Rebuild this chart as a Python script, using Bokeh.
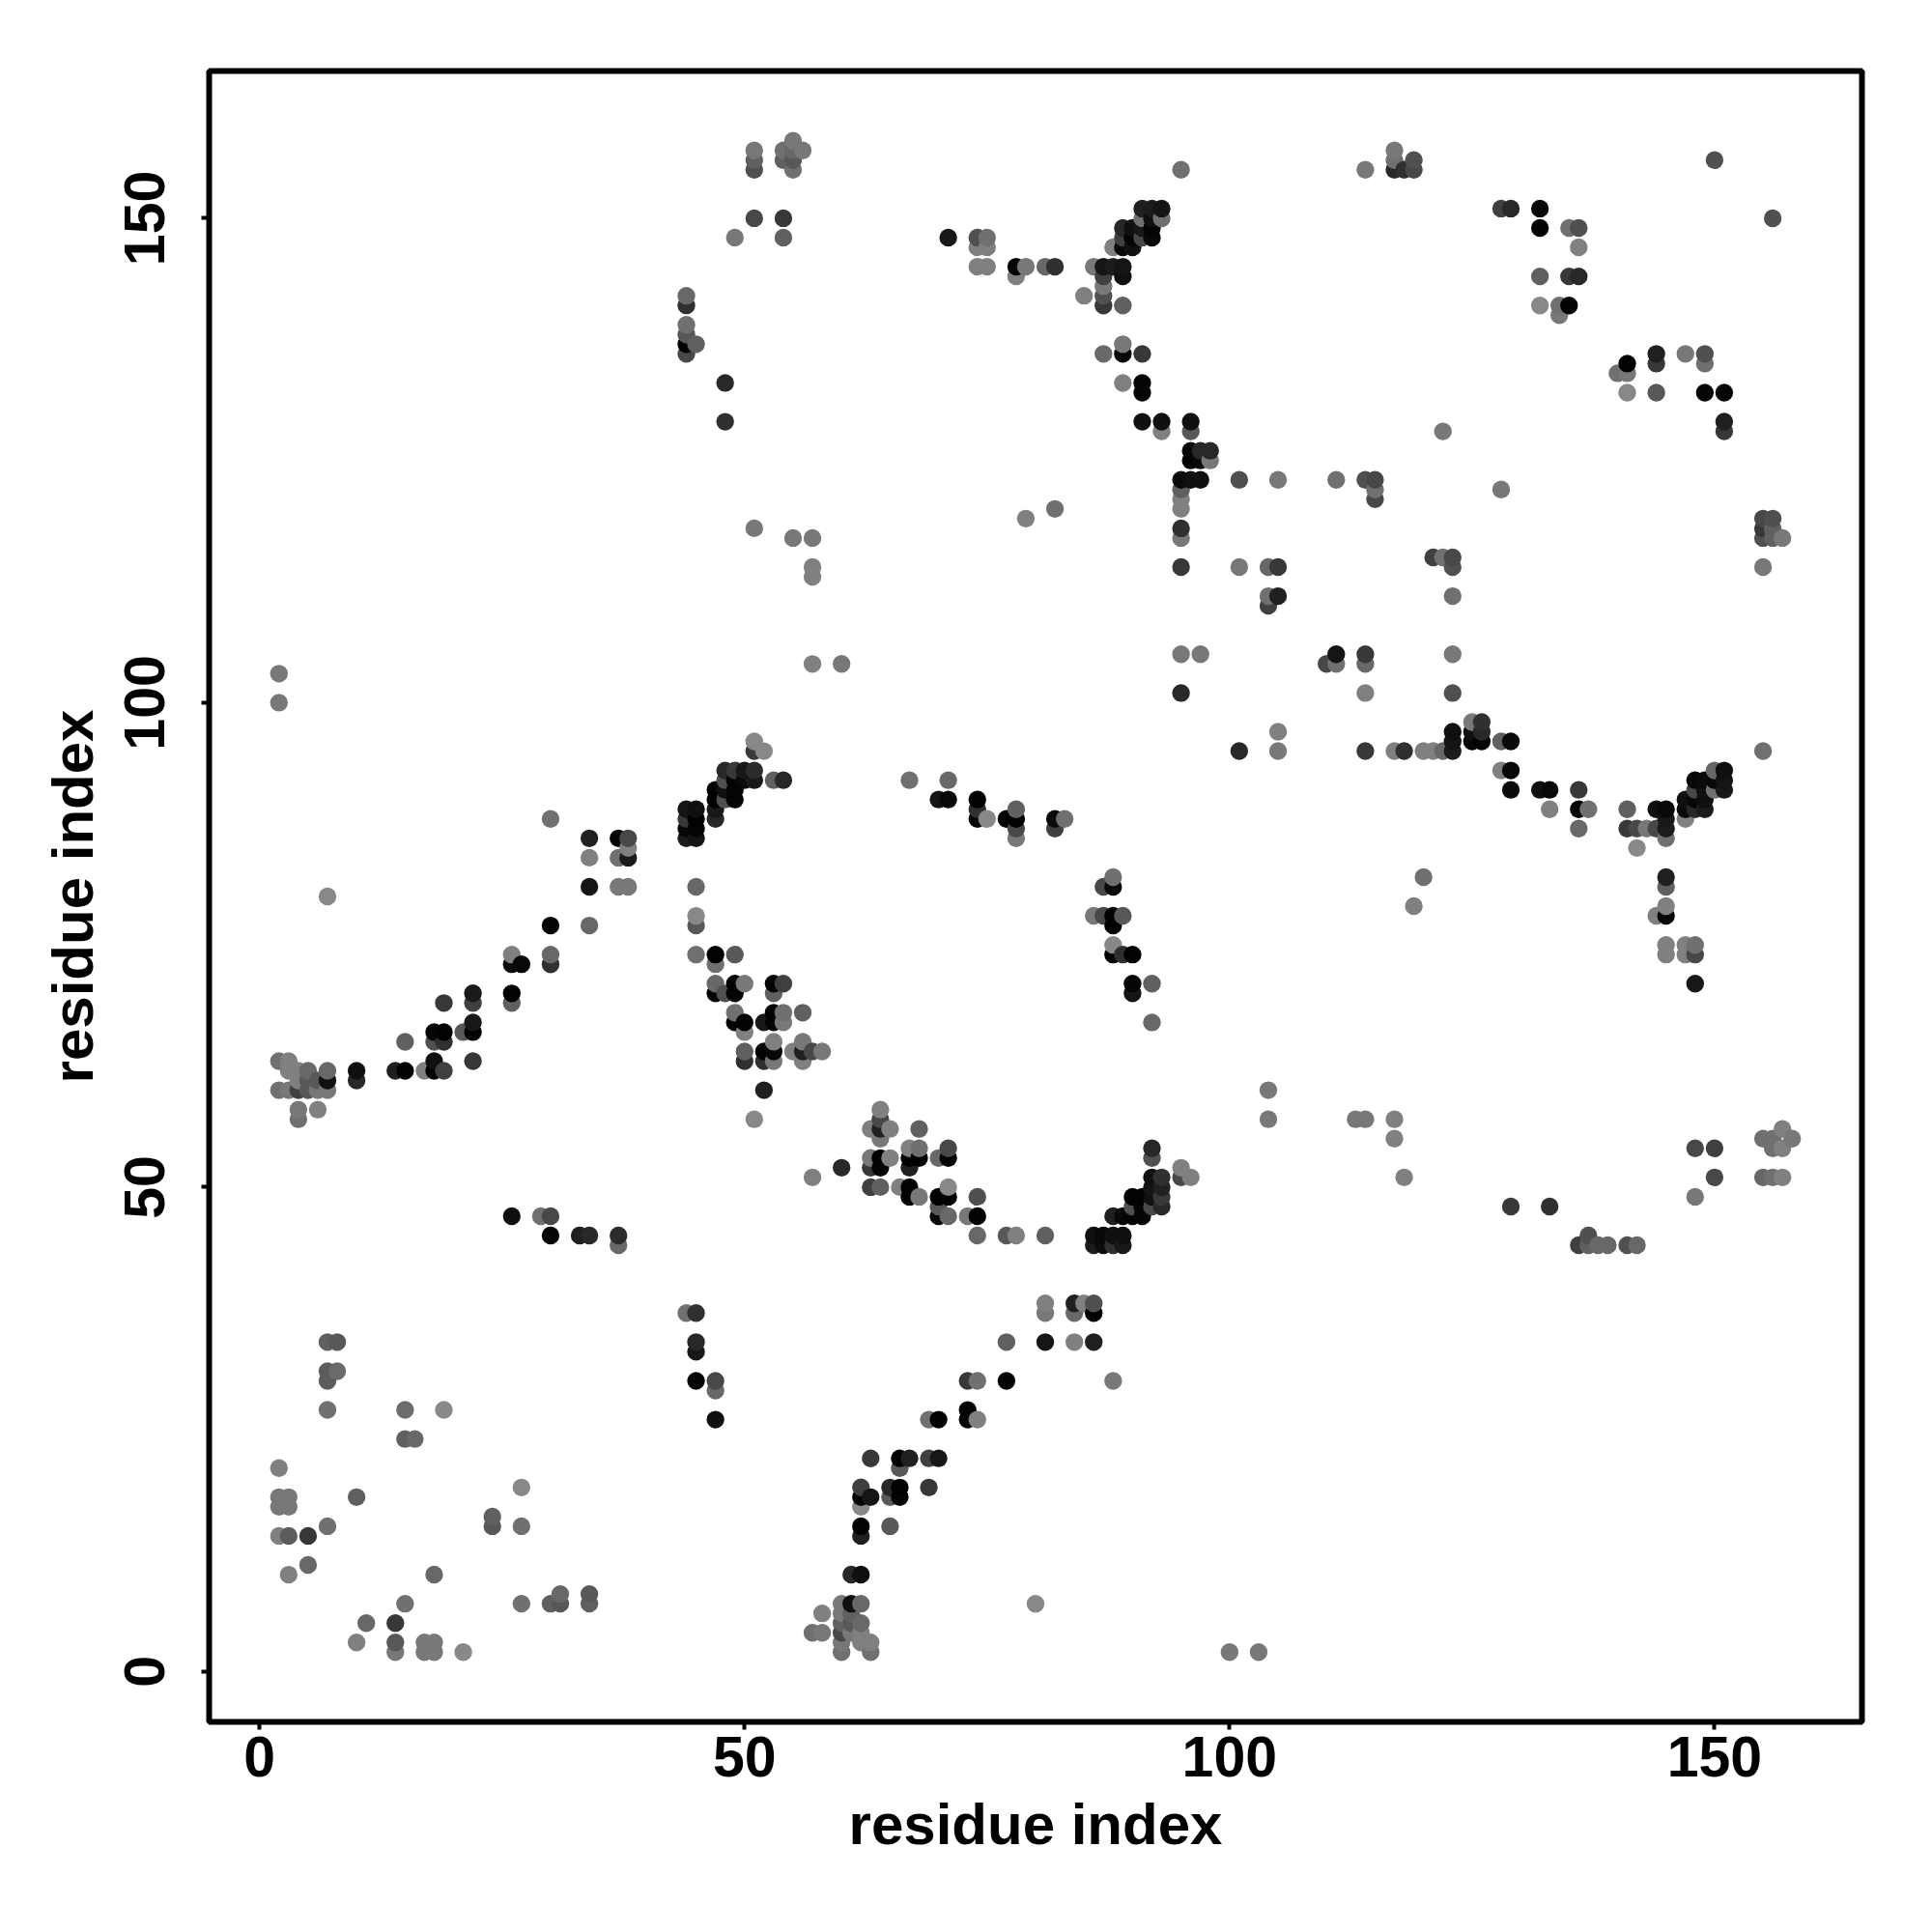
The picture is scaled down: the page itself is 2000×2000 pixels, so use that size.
from bokeh.plotting import figure
from bokeh.models import ColumnDataSource, FixedTicker, Range1d
from bokeh.palettes import Greys256
from bokeh.transform import linear_cmap
from bokeh.embed import file_html
from bokeh.resources import INLINE

# contacts: (residue i, residue j, shade 0=black .. 255=white)
lower_left = [
(7,34,0x60),(8,34,0x58),(7,31,0x5c),(8,31,0x6a),(7,30,0x5c),(7,27,0x70),(15,27,0x6c),(19,27,0x88),
(15,24,0x60),(16,24,0x68),(2,21,0x80),(2,18,0x78),(3,18,0x78),(2,17,0x78),(3,17,0x78),(10,18,0x60),
(7,15,0x70),(24,16,0x60),(24,15,0x58),(27,19,0x88),(27,15,0x70),(2,14,0x80),(3,14,0x5c),(5,14,0x38),
(5,11,0x68),(3,10,0x80),(18,10,0x68),(15,7,0x70),(27,7,0x70),(30,7,0x60),(31,7,0x58),(31,8,0x68),
(34,8,0x58),(34,7,0x60),(11,5,0x68),(14,5,0x38),(10,3,0x80),(14,3,0x58),(14,2,0x78),(17,3,0x78),
(18,3,0x78),(17,2,0x78),(18,2,0x78),(21,2,0x88),
]
diag_left = [
(7,80,0x88),(30,88,0x70),(34,86,0x20),(37,86,0x05),(38,86,0x48),(38,85,0x80),(38,84,0x1a),(37,84,0x70),
(34,84,0x80),(34,81,0x15),(37,81,0x78),(38,81,0x78),(30,77,0x05),(34,77,0x68),(26,74,0x80),(26,73,0x0a),
(27,73,0x08),(30,74,0x68),(30,73,0x30),(26,70,0x03),(26,69,0x60),(22,70,0x1a),(22,69,0x40),(19,69,0x38),
(22,67,0x18),(22,66,0x02),(21,66,0x58),(18,66,0x05),(19,66,0x02),(18,65,0x50),(19,65,0x30),(15,65,0x60),
(22,63,0x38),(18,63,0x10),(18,62,0x02),(17,62,0x80),(19,62,0x40),(15,62,0x02),(14,62,0x20),(10,62,0x10),
(10,61,0x28),(7,62,0x68),(7,61,0x10),(2,63,0x70),(3,63,0x80),(3,62,0x80),(4,62,0x80),(5,62,0x68),
(2,60,0x70),(3,60,0x78),(4,60,0x40),(5,60,0x58),(6,60,0x78),(7,60,0x78),(5,61,0x58),(6,61,0x58),
(4,61,0x80),(4,58,0x78),(4,57,0x70),(6,58,0x80),
]
middle_low = [
(26,47,0x10),(29,47,0x70),(30,47,0x48),(30,45,0x05),(33,45,0x20),(34,45,0x28),(37,45,0x2c),(37,44,0x68),
(44,37,0x70),(45,37,0x30),(45,34,0x28),(45,33,0x18),(45,30,0x05),(47,30,0x48),(47,29,0x68),(47,26,0x10),
]
helix_a = [
(51,96,0x88),(52,95,0x88),(51,95,0x38),(48,93,0x28),(49,93,0x38),(50,93,0x18),(51,93,0x2c),(48,92,0x50),
(49,92,0x05),(50,92,0x0a),(51,92,0x18),(53,92,0x60),(54,92,0x28),(47,91,0x02),(48,91,0x10),(49,91,0x05),
(47,90,0x02),(48,90,0x50),(49,90,0x05),(44,89,0x15),(45,89,0x10),(47,89,0x18),(44,88,0x38),(45,88,0x02),
(47,88,0x28),(44,87,0x08),(45,87,0x05),(44,86,0x1c),(45,86,0x15),(67,92,0x70),(71,92,0x68),(70,90,0x15),
(71,90,0x08),(74,90,0x02),(74,89,0x30),(74,88,0x05),(75,88,0x88),(78,89,0x60),(77,88,0x02),(78,88,0x02),
(78,87,0x48),(78,86,0x78),(82,88,0x0a),(83,88,0x70),(82,87,0x40),(45,81,0x68),(45,78,0x88),(45,77,0x58),
(45,74,0x70),(47,74,0x02),(49,74,0x58),(47,73,0x70),(47,71,0x68),(49,71,0x02),(50,71,0x78),(53,71,0x02),
(54,71,0x40),(47,70,0x02),(48,70,0x50),(49,70,0x05),(53,70,0x60),(49,68,0x70),(53,68,0x02),(54,68,0x70),
(56,68,0x60),(49,67,0x02),(50,67,0x02),(52,67,0x18),(53,67,0x05),(54,67,0x78),(50,66,0x80),(53,65,0x80),
(56,65,0x78),(50,64,0x60),(52,64,0x05),(53,64,0x08),(55,64,0x80),(56,64,0x20),(57,64,0x48),(58,64,0x78),
(50,63,0x30),(52,63,0x30),(53,63,0x78),(56,63,0x80),(52,60,0x20),(51,57,0x88),
(88,82,0x70),(87,81,0x48),(88,81,0x0a),(86,78,0x78),(87,78,0x48),(88,78,0x02),(89,78,0x58),(88,77,0x02),
(88,75,0x88),(88,74,0x02),(89,74,0x30),(90,74,0x02),(90,71,0x05),(92,71,0x60),(90,70,0x15),(92,67,0x68),
]
sheet_b = [
(57,51,0x80),(60,52,0x28),(64,58,0x80),(64,57,0x48),(63,56,0x80),(64,56,0x20),(65,56,0x80),(64,55,0x78),
(68,56,0x60),(67,54,0x80),(68,54,0x70),(67,53,0x02),(68,53,0x02),(67,52,0x20),(63,53,0x78),(64,53,0x02),
(65,53,0x80),(63,52,0x38),(64,52,0x05),(71,54,0x48),(71,53,0x02),(70,53,0x68),(63,50,0x40),(64,50,0x60),
(66,50,0x80),(67,50,0x02),(67,49,0x02),(68,49,0x78),(71,50,0x88),(70,49,0x02),(71,49,0x02),(70,48,0x58),
(70,47,0x05),(71,47,0x68),(74,49,0x50),(73,47,0x78),(74,47,0x02),(74,45,0x68),(77,45,0x58),(78,45,0x80),
(81,45,0x60),(86,45,0x10),(87,45,0x08),(88,45,0x10),(89,45,0x10),(86,44,0x1c),(87,44,0x0c),(88,44,0x30),
(89,44,0x18),(88,47,0x20),(89,47,0x08),(90,47,0x05),(91,47,0x05),(90,48,0x50),(91,48,0x05),(92,48,0x48),
(93,48,0x28),(90,49,0x02),(91,49,0x02),(92,49,0x10),(93,49,0x38),(92,50,0x15),(93,50,0x20),(92,51,0x10),
(93,51,0x30),(95,51,0x48),(96,51,0x80),(95,52,0x80),(92,53,0x50),(92,54,0x28),
]
sheet_c = [
(81,38,0x80),(81,37,0x78),(84,38,0x20),(85,38,0x80),(86,38,0x50),(84,37,0x68),(86,37,0x02),(77,34,0x60),
(81,34,0x15),(84,34,0x80),(86,34,0x20),(73,30,0x38),(74,30,0x70),(77,30,0x02),(88,30,0x78),(69,26,0x70),
(70,26,0x02),(73,27,0x05),(73,26,0x05),(74,26,0x80),(63,22,0x38),(66,22,0x02),(67,22,0x20),(69,22,0x40),
(70,22,0x18),(66,21,0x58),(62,19,0x40),(65,19,0x28),(66,19,0x02),(69,19,0x38),(62,18,0x05),(63,18,0x15),
(65,18,0x58),(66,18,0x05),(62,17,0x88),(62,15,0x02),(65,15,0x58),(62,14,0x20),(61,10,0x28),(62,10,0x10),
(80,7,0x88),(60,7,0x78),(61,7,0x10),(62,7,0x68),(58,6,0x80),(60,6,0x78),(61,6,0x60),(60,5,0x60),(61,5,0x58),
(62,5,0x68),(57,4,0x70),(58,4,0x78),(60,4,0x48),(61,4,0x78),(62,4,0x80),(60,3,0x78),(62,3,0x80),(63,3,0x80),
(60,2,0x70),(63,2,0x70),
]
upper_mid = [
(91,151,0x20),(92,151,0x1c),(93,151,0x15),(91,150,0x70),(92,150,0x10),(93,150,0x70),(89,149,0x28),(90,149,0x10),
(91,149,0x18),(92,149,0x05),(89,148,0x40),(90,148,0x05),(91,148,0x48),(92,148,0x08),(88,147,0x80),(89,147,0x08),
(90,147,0x10),(86,145,0x78),(87,145,0x15),(88,145,0x1c),(89,145,0x15),(89,144,0x10),(87,144,0x40),(87,143,0x78),
(85,142,0x80),(87,142,0x50),(87,141,0x38),(89,141,0x60),(89,137,0x78),(87,136,0x68),(89,136,0x08),(91,136,0x38),
(89,133,0x80),(91,133,0x05),(91,132,0x05),(91,129,0x10),(93,129,0x10),(93,128,0x80),(96,129,0x10),(96,128,0x58),
(96,126,0x05),(97,126,0x28),(98,126,0x28),(96,125,0x02),(97,125,0x08),(98,125,0x78),(95,123,0x0a),(96,123,0x10),
(97,123,0x10),(101,123,0x50),(105,123,0x78),(111,123,0x70),(114,123,0x50),(115,123,0x48),(115,122,0x70),
(115,121,0x48),(95,122,0x60),(95,121,0x80),(95,120,0x80),(95,118,0x30),(95,117,0x78),(95,114,0x38),(101,114,0x78),
(104,114,0x68),(105,114,0x38),(104,111,0x70),(105,111,0x20),(104,110,0x40),(122,128,0x78),(121,115,0x40),
(122,115,0x70),(123,115,0x48),(123,114,0x50),(123,111,0x70),(95,105,0x78),(97,105,0x78),(111,105,0x15),
(110,104,0x48),(111,104,0x70),(114,105,0x38),(114,104,0x68),(123,105,0x78),(95,101,0x28),(114,101,0x80),(123,101,0x50),
]
upper_left = [
(51,157,0x78),(51,156,0x60),(51,155,0x50),(54,157,0x70),(54,156,0x60),(55,158,0x78),(56,157,0x78),(55,157,0x68),
(55,156,0x58),(55,155,0x70),(51,150,0x48),(54,150,0x38),(49,148,0x78),(54,148,0x60),(44,142,0x68),(44,141,0x30),
(44,139,0x70),(44,138,0x58),(44,137,0x02),(45,137,0x60),(44,136,0x48),(48,133,0x28),(48,129,0x30),(71,148,0x18),
(74,148,0x50),(75,148,0x70),(74,147,0x80),(75,147,0x80),(74,145,0x80),(75,145,0x80),(78,145,0x05),(79,145,0x78),
(78,144,0x80),(81,145,0x68),(82,145,0x30),(51,118,0x78),(55,117,0x78),(57,117,0x78),(57,114,0x80),(57,113,0x80),
(57,104,0x80),(60,104,0x78),(79,119,0x80),(82,120,0x70),(2,103,0x78),(2,100,0x78),
]
upper_right = [
(150,156,0x50),(156,150,0x50),(128,151,0x40),(129,151,0x28),(132,151,0x08),(132,149,0x02),(135,149,0x70),
(136,149,0x50),(136,147,0x80),(132,144,0x60),(135,144,0x38),(136,144,0x28),(132,141,0x88),(134,141,0x70),
(135,141,0x02),(134,140,0x78),(144,136,0x20),(144,135,0x38),(147,136,0x78),(149,136,0x50),(149,135,0x70),
(141,135,0x02),(140,134,0x70),(141,134,0x78),(141,132,0x88),(144,132,0x58),(149,132,0x05),(151,132,0x05),
(151,129,0x20),(151,128,0x38),(128,122,0x78),(114,155,0x78),(117,157,0x78),(117,156,0x70),(117,155,0x28),
(119,156,0x50),(119,155,0x48),(118,155,0x30),(95,155,0x70),
]
right_band = [
(114,95,0x38),(117,95,0x80),(118,95,0x30),(120,95,0x80),(121,95,0x80),(122,95,0x68),(123,95,0x1c),(123,97,0x10),
(123,96,0x15),(125,98,0x78),(126,98,0x30),(125,97,0x10),(126,97,0x28),(125,96,0x08),(126,96,0x05),(128,96,0x60),
(129,96,0x0a),(128,93,0x80),(129,93,0x08),(129,91,0x0a),(132,91,0x10),(133,91,0x08),(136,91,0x38),(133,89,0x80),
(136,89,0x05),(137,89,0x70),(136,87,0x68),(141,89,0x60),(141,87,0x38),(142,87,0x48),(143,87,0x78),(144,87,0x48),
(142,85,0x88),(144,89,0x10),(145,89,0x08),(145,88,0x18),(145,87,0x1c),(145,86,0x70),(145,82,0x20),(145,81,0x60),
(145,79,0x80),(144,78,0x80),(145,78,0x08),(145,75,0x80),(145,74,0x80),(147,75,0x80),(147,74,0x80),(148,75,0x70),
(148,74,0x48),(148,71,0x18),(120,82,0x70),(119,79,0x80),(147,88,0x80),(147,90,0x10),(147,89,0x0a),(148,89,0x28),
(149,89,0x1c),(148,90,0x08),(149,90,0x10),(148,91,0x48),(149,91,0x10),(150,91,0x70),(151,91,0x18),(148,92,0x08),
(149,92,0x0a),(150,92,0x08),(151,92,0x15),(150,93,0x68),(151,93,0x10),(155,95,0x70),(101,95,0x28),(105,95,0x78),
(105,97,0x80),
]
lower_right = [
(104,60,0x78),(104,57,0x78),(113,57,0x78),(114,57,0x78),(117,57,0x80),(117,55,0x80),(118,51,0x80),(129,48,0x38),
(133,48,0x30),(136,44,0x40),(137,45,0x50),(137,44,0x60),(138,44,0x68),(139,44,0x68),(141,44,0x50),(142,44,0x68),
(148,54,0x48),(150,54,0x40),(150,51,0x48),(148,49,0x78),(155,55,0x70),(156,54,0x70),(157,56,0x80),(157,54,0x80),
(156,55,0x70),(158,55,0x78),(155,51,0x68),(156,51,0x70),(157,51,0x80),(155,114,0x78),(155,119,0x48),(156,119,0x50),
(155,118,0x38),(155,117,0x50),(156,118,0x60),(156,117,0x60),(157,117,0x78),(100,2,0x78),(103,2,0x78),
]

ticks = [0, 50, 100, 150]
axis_label = "residue index"

points = sorted(set(lower_left + diag_left + middle_low + helix_a + sheet_b + sheet_c
                    + upper_mid + upper_left + upper_right + right_band + lower_right),
                key=lambda t: (t[0], t[1]))
source = ColumnDataSource(dict(i=[t[0] for t in points], j=[t[1] for t in points],
                               shade=[t[2] for t in points]))

p = figure(width=1984, height=1984, output_backend="svg", toolbar_location=None,
           x_range=Range1d(-5.2, 165.2), y_range=Range1d(-5.2, 165.2),
           min_border_left=216, min_border_right=57, min_border_top=73, min_border_bottom=202,
           x_axis_label=axis_label, y_axis_label=axis_label)
p.grid.visible = False
p.background_fill_color = "white"
p.outline_line_color = "black"
p.outline_line_width = 6

p.circle("i", "j", source=source, radius=0.915, line_color=None,
         fill_color=linear_cmap("shade", Greys256, 0, 256))

for ax in (p.xaxis[0], p.yaxis[0]):
    ax.ticker = FixedTicker(ticks=ticks)
    ax.axis_line_color = None
    ax.major_tick_in = 0
    ax.major_tick_out = 8
    ax.major_tick_line_width = 4
    ax.major_tick_line_color = "black"
    ax.minor_tick_line_color = None
    ax.major_label_text_font = "Liberation Sans"
    ax.major_label_text_font_style = "bold"
    ax.major_label_text_font_size = "59px"
    ax.major_label_text_color = "black"
    ax.axis_label_text_font = "Liberation Sans"
    ax.axis_label_text_font_style = "bold"
    ax.axis_label_text_font_size = "60px"
    ax.axis_label_text_color = "black"
p.xaxis[0].major_label_standoff = 7
p.xaxis[0].axis_label_standoff = 13
p.yaxis[0].major_label_standoff = 38
p.yaxis[0].major_label_orientation = "vertical"
p.yaxis[0].axis_label_standoff = 18

open("out.html", "w").write(file_html(p, INLINE))
